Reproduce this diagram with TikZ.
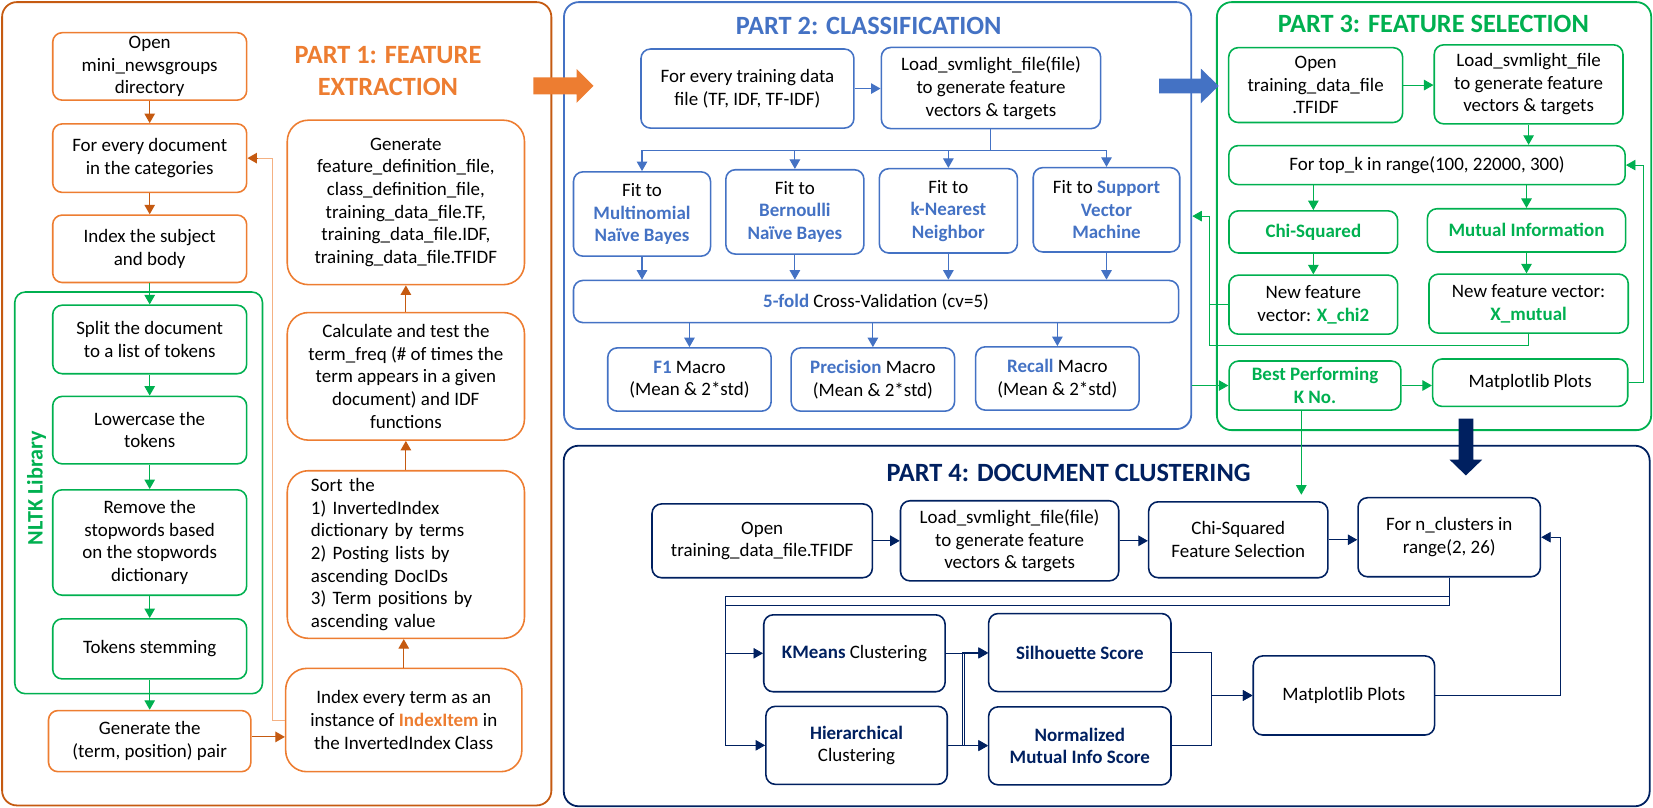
\documentclass[tikz,border=0pt]{standalone}
\usepackage{fontspec}
\setmainfont{Carlito}
\usetikzlibrary{arrows.meta}
\definecolor{orangeA}{HTML}{ED7D31}
\definecolor{orangeB}{HTML}{C55A11}
\definecolor{orangeC}{HTML}{F4B183}
\definecolor{blueA}{HTML}{4472C4}
\definecolor{greenA}{HTML}{00B050}
\definecolor{navyA}{HTML}{002060}

\begin{document}
\begin{tikzpicture}[x=1pt,y=-1pt]
        \tikzset{box/.style = {draw, rounded corners=9pt, line width=1.5pt, align=center, inner sep=1pt, font=\fontsize{18}{21.5}\selectfont}}
        \tikzset{obox/.style = {box, draw=orangeA}}
        \tikzset{gbox/.style = {box, draw=greenA}}
        \tikzset{bbox/.style = {box, draw=blueA}}
        \tikzset{nbox/.style = {box, draw=navyA}}
        \tikzset{frame/.style = {draw, rounded corners=14pt, line width=1.7pt, inner sep=0pt}}
        \tikzset{title/.style = {font=\fontsize{25}{31}\selectfont\bfseries, align=center}}
        \tikzset{edge/.style = {->, > = {Triangle[width=10pt,length=9pt]}, line width=1pt}}
        \useasboundingbox (0,0) rectangle (1568,766);
        % frames
        \node[frame, draw=orangeB, minimum width=521pt, minimum height=762pt] (p1) at (262.5,383) {};
        \node[frame, draw=blueA, minimum width=595pt, minimum height=405pt] (p2) at (832.5,204.5) {};
        \node[frame, draw=greenA, minimum width=412pt, minimum height=406pt] (p3) at (1360.3,205) {};
        \node[frame, draw=navyA, minimum width=1030pt, minimum height=342pt] (p4) at (1049.8,593.8) {};
        \node[draw=greenA, rounded corners=10pt, line width=1.5pt, minimum width=235pt, minimum height=381pt] (nltk) at (131.5,467.5) {};
        % titles
        \node[title, text=orangeA] (t1) at (368,67.5) {PART 1: FEATURE\\EXTRACTION};
        \node[title, text=blueA] (t2) at (824,25) {PART 2: CLASSIFICATION};
        \node[title, text=greenA] (t3) at (1359.6,23) {PART 3: FEATURE SELECTION};
        \node[title, text=navyA] (t4) at (1013.7,449) {PART 4: DOCUMENT CLUSTERING};
        \node[rotate=90, text=greenA, font=\fontsize{21}{25}\selectfont\bfseries] (nltkl) at (34.7,463) {NLTK Library};
        % part 1 vertices
        \node[obox, minimum width=184pt, minimum height=64pt] (open1) at (142,63) {Open\\mini\_newsgroups\\directory};
        \node[obox, minimum width=184pt, minimum height=65pt] (forDoc) at (142,150) {For every document\\in the categories};
        \node[obox, minimum width=184pt, minimum height=64pt] (idxSub) at (142,236) {Index the subject\\and body};
        \node[gbox, minimum width=184pt, minimum height=65pt] (split) at (142,322) {Split the document\\to a list of tokens};
        \node[gbox, minimum width=184pt, minimum height=64pt] (lower) at (142,408) {Lowercase the\\tokens};
        \node[gbox, minimum width=184pt, minimum height=100pt] (stop) at (142,514.6) {Remove the\\stopwords based\\on the stopwords\\dictionary};
        \node[gbox, minimum width=184pt, minimum height=57pt] (stem) at (142,615.5) {Tokens stemming};
        \node[obox, minimum width=192pt, minimum height=58pt] (pair) at (142,703) {Generate the\\(term, position) pair};
        \node[obox, rounded corners=20pt, minimum width=225pt, minimum height=156pt] (genFile) at (385,192) {Generate\\feature\_definition\_file,\\class\_definition\_file,\\training\_data\_file.TF,\\training\_data\_file.IDF,\\training\_data\_file.TFIDF};
        \node[obox, rounded corners=20pt, minimum width=225pt, minimum height=121pt] (calc) at (385,357) {Calculate and test the\\term\_freq (\# of times the\\term appears in a given\\document) and IDF\\functions};
        \node[obox, rounded corners=20pt, minimum width=225pt, minimum height=159pt, text width=180pt, align=left] (sort) at (385,526) {Sort the\\1) InvertedIndex\\dictionary by terms\\2) Posting lists by\\ascending DocIDs\\3) Term positions by\\ascending value};
        \node[obox, rounded corners=20pt, minimum width=224pt, minimum height=98pt] (instance) at (383,683) {Index every term as an\\instance of \textcolor{orangeA}{\textbf{IndexItem}} in\\the InvertedIndex Class};
        % part 2 vertices
        \node[bbox, minimum width=202pt, minimum height=75pt] (trainFile) at (709,84) {For every training data\\file (TF, IDF, TF-IDF)};
        \node[bbox, minimum width=208pt, minimum height=77pt] (load2) at (940,83.5) {Load\_svmlight\_file(file)\\to generate feature\\vectors \& targets};
        \node[bbox, minimum width=130pt, minimum height=80pt] (mnb) at (609,203) {Fit to\\\textcolor{blueA}{\textbf{Multinomial}}\\\textcolor{blueA}{\textbf{Naïve Bayes}}};
        \node[bbox, minimum width=131pt, minimum height=80pt] (bnb) at (754,201) {Fit to\\\textcolor{blueA}{\textbf{Bernoulli}}\\\textcolor{blueA}{\textbf{Naïve Bayes}}};
        \node[bbox, minimum width=131pt, minimum height=80pt] (knn) at (899.6,200) {Fit to\\\textcolor{blueA}{\textbf{k-Nearest}}\\\textcolor{blueA}{\textbf{Neighbor}}};
        \node[bbox, minimum width=139pt, minimum height=80pt] (svm) at (1049.6,199) {Fit to \textcolor{blueA}{\textbf{Support}}\\\textcolor{blueA}{\textbf{Vector}}\\\textcolor{blueA}{\textbf{Machine}}};
        \node[bbox, minimum width=574pt, minimum height=40pt] (cv) at (831,286) {\textcolor{blueA}{\textbf{5-fold}} Cross-Validation (cv=5)};
        \node[bbox, minimum width=155pt, minimum height=60pt] (f1) at (654,360) {\textcolor{blueA}{\textbf{F1}} Macro\\(Mean \& 2*std)};
        \node[bbox, minimum width=155pt, minimum height=60pt] (prec) at (828,360) {\textcolor{blueA}{\textbf{Precision}} Macro\\(Mean \& 2*std)};
        \node[bbox, minimum width=155pt, minimum height=60pt] (rec) at (1003,359) {\textcolor{blueA}{\textbf{Recall}} Macro\\(Mean \& 2*std)};
        % part 3 vertices
        \node[gbox, minimum width=165pt, minimum height=71pt] (open3) at (1248,80.7) {Open\\training\_data\_file\\.TFIDF};
        \node[gbox, minimum width=179pt, minimum height=75pt] (load3) at (1450,80) {Load\_svmlight\_file\\to generate feature\\vectors \& targets};
        \node[gbox, minimum width=376pt, minimum height=37pt] (topk) at (1353.6,156.6) {For top\_k in range(100, 22000, 300)};
        \node[gbox, minimum width=160pt, minimum height=40pt] (chisq) at (1245.8,220) {\textcolor{greenA}{\textbf{Chi-Squared}}};
        \node[gbox, minimum width=188pt, minimum height=41pt] (mutinf) at (1448,218.5) {\textcolor{greenA}{\textbf{Mutual Information}}};
        \node[gbox, minimum width=160pt, minimum height=56pt] (xchi) at (1245.8,289) {New feature\\vector: \textcolor{greenA}{\textbf{X\_chi2}}};
        \node[gbox, minimum width=189pt, minimum height=56pt] (xmut) at (1450,288) {New feature vector:\\\textcolor{greenA}{\textbf{X\_mutual}}};
        \node[gbox, minimum width=163pt, minimum height=46.5pt] (best) at (1247.4,365.7) {\textcolor{greenA}{\textbf{Best Performing}}\\\textcolor{greenA}{\textbf{K No.}}};
        \node[gbox, minimum width=185pt, minimum height=45pt] (mpl3) at (1451.5,363) {Matplotlib Plots};
        % part 4 vertices
        \node[nbox, minimum width=209pt, minimum height=70pt] (open4) at (723,513) {Open\\training\_data\_file.TFIDF};
        \node[nbox, minimum width=207pt, minimum height=76pt] (load4) at (957.7,513) {Load\_svmlight\_file(file)\\to generate feature\\vectors \& targets};
        \node[nbox, minimum width=170pt, minimum height=72pt] (chifs) at (1174.6,512) {Chi-Squared\\Feature Selection};
        \node[nbox, minimum width=173pt, minimum height=75pt] (ncl) at (1374.7,509.6) {For n\_clusters in\\range(2, 26)};
        \node[nbox, minimum width=172pt, minimum height=73pt] (kmeans) at (810.5,619.7) {\textcolor{navyA}{\textbf{KMeans}} Clustering};
        \node[nbox, minimum width=173pt, minimum height=74pt] (sil) at (1024.3,619) {\textcolor{navyA}{\textbf{Silhouette Score}}};
        \node[nbox, minimum width=172pt, minimum height=74pt] (hier) at (812.5,707) {\textcolor{navyA}{\textbf{Hierarchical}}\\Clustering};
        \node[nbox, minimum width=173pt, minimum height=74pt] (nmi) at (1024.3,707.5) {\textcolor{navyA}{\textbf{Normalized}}\\\textcolor{navyA}{\textbf{Mutual Info Score}}};
        \node[nbox, minimum width=172pt, minimum height=75pt] (mpl4) at (1274.8,659.7) {Matplotlib Plots};
        % big arrows
        \fill[orangeA] (506,73.5) -- (547,73.5) -- (547,65.5) -- (563,81.5) -- (547,97.5) -- (547,89.5) -- (506,89.5) -- cycle;
        \fill[blueA] (1099.5,74.5) -- (1139,74.5) -- (1139,65) -- (1156,81.5) -- (1139,98) -- (1139,88.5) -- (1099.5,88.5) -- cycle;
        \fill[navyA] (1383.5,397) -- (1397.5,397) -- (1397.5,436) -- (1406,436) -- (1390.5,451) -- (1375,436) -- (1383.5,436) -- cycle;
        % part 1 edges
        \draw[edge, draw=orangeB] (open1) -- (forDoc);
        \draw[edge, draw=orangeB] (forDoc) -- (idxSub);
        \draw[edge, draw=greenA] (idxSub) -- (split);
        \draw[edge, draw=greenA] (split) -- (lower);
        \draw[edge, draw=greenA] (lower) -- (stop);
        \draw[edge, draw=greenA] (stop) -- (stem);
        \draw[edge, draw=greenA] (stem) -- (pair);
        \draw[edge, draw=orangeB] ([yshift=4pt]pair.east) -- ([yshift=4pt]pair.east -| instance.west);
        \draw[edge, draw=orangeB] (instance.north) -- (instance.north |- sort.south);
        \draw[edge, draw=orangeB] (sort.north) -- (sort.north |- calc.south);
        \draw[edge, draw=orangeB] (calc.north) -- (calc.north |- genFile.south);
        \draw[draw=orangeC, line width=1pt] (instance.west) -- ++(-12,0) |- ([xshift=10pt]forDoc.east);
        \draw[edge, draw=orangeB] ([xshift=10pt]forDoc.east) -- (forDoc.east);
        % part 2 edges
        \draw[edge, draw=blueA] (trainFile.east) -- (trainFile.east -| load2.west);
        \foreach \f in {mnb,bnb,knn,svm}
          \draw[edge, draw=blueA] (load2.south) -- ++(0,20) -| (\f.north);
        \foreach \f in {mnb,bnb,knn,svm}
          \draw[edge, draw=blueA] (\f.south) -- (\f.south |- cv.north);
        \foreach \m in {f1,prec,rec}
          \draw[edge, draw=blueA] (cv.south -| \m.north) -- (\m.north);
        % part 3 edges
        \coordinate (p2in) at (1131,205);
        \draw[edge, draw=greenA] (open3.east) -- (open3.east -| load3.west);
        \draw[edge, draw=greenA] (load3.south) -- (load3.south |- topk.north);
        \draw[edge, draw=greenA] (topk.south -| chisq.north) -- (chisq.north);
        \draw[edge, draw=greenA] (topk.south -| mutinf.north) -- (mutinf.north);
        \draw[edge, draw=greenA] (chisq) -- (xchi);
        \draw[edge, draw=greenA] (mutinf.south) -- (mutinf.south |- xmut.north);
        \draw[edge, draw=greenA, line width=0.7pt] (xchi.west) -- ++(-18,0) |- (p2in);
        \draw[draw=greenA, line width=0.7pt] (xmut.south) -- ++(0,11) -| ([xshift=-18pt]xchi.west);
        \draw[edge, draw=greenA, line width=0.7pt] (p2.east |- best.west) -- (best.west);
        \draw[edge, draw=greenA] (best.east) -- (best.east -| mpl3.west);
        \draw[edge, draw=greenA, line width=0.7pt] (mpl3.east) -- ++(14,0) |- (topk.east);
        \draw[edge, draw=greenA, line width=0.7pt, shorten >=6pt] ([xshift=-13pt]best.south) -- ([xshift=-13pt]best.south |- chifs.north);
        % part 4 edges
        \draw[edge, draw=navyA] (open4.east) -- (open4.east -| load4.west);
        \draw[edge, draw=navyA] (load4.east) -- (load4.east -| chifs.west);
        \draw[edge, draw=navyA] (chifs.east) -- (chifs.east -| ncl.west);
        \draw[edge, draw=navyA, line width=0.8pt] (ncl.south) -- ++(0,18) -| ([xshift=-36pt]kmeans.west) -- (kmeans.west);
        \draw[edge, draw=navyA, line width=0.8pt] (ncl.south) -- ++(0,26) -| ([xshift=-38pt]hier.west) -- (hier.west);
        \draw[edge, draw=navyA] (kmeans.east) -- (kmeans.east -| sil.west);
        \draw[edge, draw=navyA, line width=0.8pt] (kmeans.east) -- ++(18,0) |- (nmi.west);
        \draw[edge, draw=navyA] (hier.east) -- (hier.east -| nmi.west);
        \draw[edge, draw=navyA, line width=0.8pt] (hier.east) -- ++(14,0) |- (sil.west);
        \draw[edge, draw=navyA, line width=0.8pt] (sil.east) -- ++(38,0) |- (mpl4.west);
        \draw[edge, draw=navyA, line width=0.8pt] (nmi.east) -- ++(38,0) |- (mpl4.west);
        \draw[edge, draw=navyA, line width=0.8pt] (mpl4.east) -- ++(119,0) |- (ncl.east);
\end{tikzpicture}
\end{document}
